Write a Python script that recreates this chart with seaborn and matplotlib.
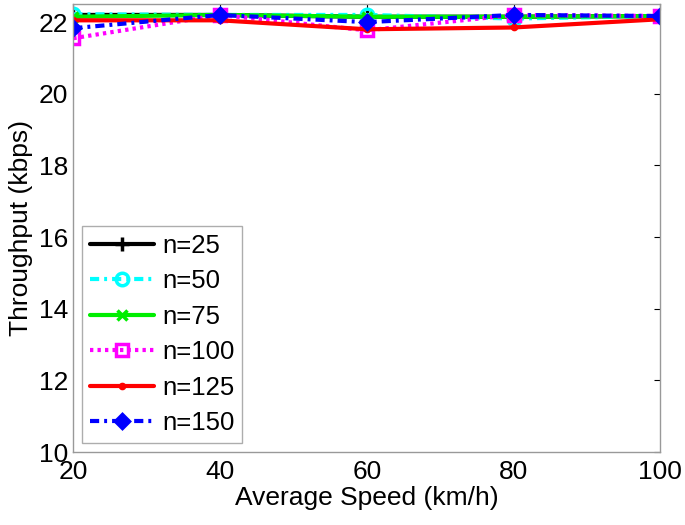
import matplotlib
matplotlib.use('Agg')
import matplotlib.pyplot as plt
import seaborn as sns

speed = [20, 40, 60, 80, 100]
labels = ['n=25', 'n=50', 'n=75', 'n=100', 'n=125', 'n=150']
thr_25 = [22.2, 22.2, 22.15, 22.15, 22.17]
thr_50 = [22.22, 22.2, 22.2, 22.1, 22.17]
thr_75 = [22.15, 22.2, 22.15, 22.15, 22.17]
thr_100 = [21.55, 22.2, 21.77, 22.2, 22.17]
thr_125 = [22.05, 22.05, 21.8, 21.85, 22.08]
thr_150 = [21.83, 22.2, 22.0, 22.2, 22.17]
series = [thr_25, thr_50, thr_75, thr_100, thr_125, thr_150]

colors = ['black', 'cyan', '#00ee00', 'magenta', 'red', 'blue']
dashdot = (0, (2.2, 1.2, 0.7, 1.2))
styles = ['-', dashdot, '-', (0, (0.8, 1.0)), '-', dashdot]
markers = ['+', 'o', 'x', 's', '.', 'D']
msizes = [10, 9, 7, 8, 6, 7]

sns.set_style('white')
plt.rcParams['font.family'] = ['Liberation Sans', 'DejaVu Sans']
plt.rcParams['text.color'] = 'black'
plt.rcParams['axes.labelcolor'] = 'black'
plt.rcParams['xtick.color'] = 'black'
plt.rcParams['ytick.color'] = 'black'

fig = plt.figure(figsize=(6.85, 5.25), dpi=100)
ax = fig.add_axes([0.107, 0.139, 0.857, 0.853])

for y, lab, c, ls, mk, ms in zip(series, labels, colors, styles, markers, msizes):
    sns.lineplot(x=speed, y=y, ax=ax, color=c, linestyle=ls, marker=mk,
                 linewidth=3, markersize=ms, markeredgewidth=2.5,
                 markerfacecolor='none' if mk in ('o', 's') else c,
                 markeredgecolor=c, label=lab)

ax.set_xlim(20, 100)
ax.set_ylim(10, 22.5)
ax.set_xticks([20, 40, 60, 80, 100])
ax.set_yticks([10, 12, 14, 16, 18, 20, 22])
ax.tick_params(direction='in', labelsize=19, length=4, top=True, right=True)
ax.tick_params(axis='x', pad=6)
ax.set_xlabel('Average Speed (km/h)', fontsize=19, labelpad=1)
ax.set_ylabel('Throughput (kbps)', fontsize=19, labelpad=4)
for s in ax.spines.values():
    s.set_color('#999999')
    s.set_linewidth(1)

leg = ax.legend(loc='lower left', fontsize=18.5, frameon=True, fancybox=False,
                handlelength=2.5, borderaxespad=0.35, labelspacing=0.45,
                borderpad=0.3, handletextpad=0.3)
leg.get_frame().set_edgecolor('#999999')
leg.get_frame().set_linewidth(1)

fig.savefig('out.png', dpi=100)
